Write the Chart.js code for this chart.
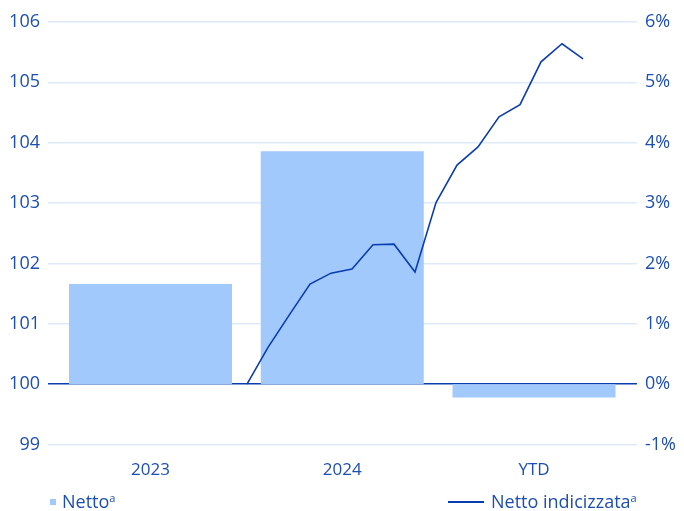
<!DOCTYPE html>
<html>
<head>
<meta charset="utf-8">
<script src="https://cdn.jsdelivr.net/npm/chart.js@4"></script>
<style>
  body { margin: 0; background: #fff; }
  #wrap { position: relative; width: 684px; height: 511px; }
  .leg { position: absolute; top: 489px; font: 18px "Open Sans", sans-serif; color: #1d4eb3; white-space: nowrap; }
  .leg sup { font-size: 11px; vertical-align: 6px; }
  .sq { display: inline-block; width: 6px; height: 6px; background: #a1c9fc; margin-right: 6px; vertical-align: 3px; }
  .ln { display: inline-block; width: 36px; height: 2px; background: #0a3eb0; margin-right: 7px; vertical-align: 5px; }
</style>
</head>
<body>
<div id="wrap">
  <canvas id="myChart"></canvas>
  <div class="leg" style="left:50px"><span class="sq"></span>Netto<sup>a</sup></div>
  <div class="leg" style="left:448px"><span class="ln"></span>Netto indicizzata<sup>a</sup></div>
</div>
<script>
const categories = ["2023", "2024", "YTD"];
const nettoPct = [1.66, 3.86, -0.22];
// index series, one point per period, starting at end of 2023
const periods = [0, 1, 2, 3, 4, 5, 6, 7, 8, 9, 10, 11, 12, 13, 14, 15, 16];
const indicizzata = [100.0, 100.61, 101.14, 101.66, 101.84, 101.91, 102.31, 102.32, 101.86,
  103.01, 103.63, 103.93, 104.43, 104.63, 105.34, 105.64, 105.39];

const textColor = "#1d4eb3";
const gridColor = "#deeaf8";
const zeroColor = "#0a3eb0";

const data = {
  datasets: [
    {
      type: "bar",
      label: "Netto",
      data: nettoPct.map((v, i) => ({ x: i, y: v })),
      backgroundColor: "#a1c9fc",
      borderWidth: 0,
      grouped: false,
      xAxisID: "x",
      yAxisID: "y1",
      barPercentage: 0.85,
      categoryPercentage: 1,
      order: 2,
    },
    {
      type: "line",
      label: "Netto indicizzata",
      data: periods.map((p, i) => ({ x: p, y: indicizzata[i] })),
      borderColor: "#0a3eb0",
      borderWidth: 1.6,
      pointRadius: 0,
      tension: 0,
      xAxisID: "xl",
      yAxisID: "y",
      order: 1,
    },
  ],
};

const config = {
  type: "bar",
  data,
  options: {
    responsive: false,
    animation: false,
    layout: { padding: { top: 22, bottom: 24, left: 0, right: 0 } },
    plugins: { legend: { display: false }, tooltip: { enabled: false } },
    scales: {
      x: {
        type: "linear",
        offset: false,
        min: -0.5345,
        max: 2.537,
        grid: { display: false },
        border: { display: false },
        ticks: {
          stepSize: 1,
          includeBounds: false,
          autoSkip: false,
          maxRotation: 0,
          color: textColor,
          font: { family: "Open Sans", size: 17 },
          padding: 7,
          callback: (v) => (Number.isInteger(v) && categories[v] ? categories[v] : ""),
        },
      },
      xl: {
        type: "linear",
        display: false,
        offset: false,
        min: -9.476,
        max: 18.57,
      },
      y: {
        position: "left",
        min: 99,
        max: 106,
        ticks: { stepSize: 1, color: textColor, font: { family: "Open Sans", size: 18 }, padding: 8 },
        border: { display: false },
        grid: {
          drawTicks: false,
          color: (ctx) => (ctx.tick && ctx.tick.value === 100 ? zeroColor : gridColor),
          lineWidth: 1.5,
        },
        afterFit: (scale) => { scale.width = 48; },
      },
      y1: {
        position: "right",
        min: -1,
        max: 6,
        ticks: {
          stepSize: 1,
          color: textColor,
          font: { family: "Open Sans", size: 18 },
          padding: 8,
          callback: (v) => v + "%",
        },
        border: { display: false },
        grid: { display: false, drawTicks: false },
        afterFit: (scale) => { scale.width = 47; },
      },
    },
  },
};

const canvas = document.getElementById("myChart");
canvas.width = 684;
canvas.height = 511;
const myChart = new Chart(canvas, config);
</script>
</body>
</html>
